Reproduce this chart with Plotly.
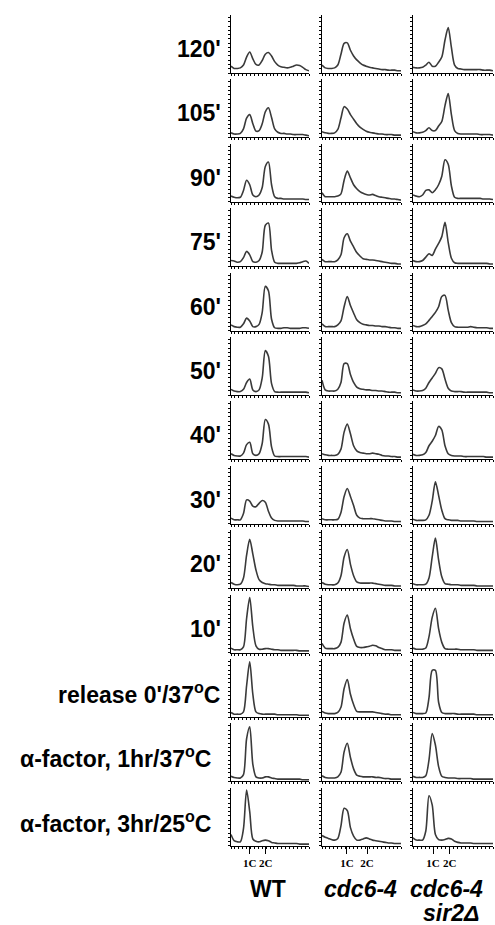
import plotly.graph_objects as go

# ---------------- data ----------------
channel = [0, 4, 8, 12, 16, 20, 24, 28, 32, 36, 40, 44, 48, 52, 56, 60, 64, 68, 72, 76, 80, 84, 88, 92, 96, 100]

row_labels = ["120'", "105'", "90'", "75'", "60'", "50'", "40'", "30'", "20'", "10'",
              "release 0'/37<sup>o</sup>C", "α-factor, 1hr/37<sup>o</sup>C", "α-factor, 3hr/25<sup>o</sup>C"]

strains = ["WT", "cdc6-4", "cdc6-4 sir2Δ"]
c1_pos = [24, 31.6, 25]
c2_pos = [44.5, 57, 46]
dna_ticks = ["1C", "2C"]

wt = [
    [12, 8, 8, 9, 14, 28, 37, 25, 15, 14, 22, 33, 36, 30, 20, 14, 11, 10, 9, 10, 12, 14, 13, 10, 6, 4],
    [8, 6, 6, 7, 15, 34, 40, 24, 11, 12, 24, 45, 52, 35, 15, 9, 7, 7, 6, 6, 5, 5, 5, 5, 4, 3],
    [10, 8, 7, 8, 20, 38, 30, 12, 9, 12, 25, 62, 70, 30, 9, 6, 6, 5, 5, 5, 5, 5, 5, 5, 4, 4],
    [10, 9, 7, 8, 15, 26, 20, 8, 7, 10, 25, 72, 76, 28, 7, 5, 5, 5, 5, 5, 5, 5, 6, 8, 9, 5],
    [10, 7, 6, 6, 12, 22, 17, 7, 7, 11, 32, 78, 70, 20, 5, 4, 4, 5, 5, 4, 4, 4, 4, 5, 5, 4],
    [10, 7, 6, 6, 10, 22, 28, 9, 6, 9, 30, 78, 68, 20, 6, 5, 5, 5, 5, 5, 5, 5, 5, 5, 5, 4],
    [10, 7, 6, 6, 11, 26, 30, 10, 7, 10, 28, 70, 62, 22, 6, 5, 5, 5, 5, 5, 5, 5, 5, 5, 5, 4],
    [10, 7, 7, 7, 18, 42, 40, 31, 30, 36, 41, 38, 22, 10, 6, 5, 5, 5, 5, 5, 5, 5, 5, 5, 4, 4],
    [10, 7, 6, 7, 18, 58, 86, 60, 32, 15, 10, 8, 7, 6, 6, 5, 5, 5, 5, 5, 5, 4, 4, 4, 4, 3],
    [8, 5, 5, 5, 10, 60, 97, 45, 12, 6, 6, 7, 7, 6, 5, 5, 4, 4, 4, 4, 4, 4, 3, 3, 3, 3],
    [8, 5, 5, 5, 9, 55, 97, 40, 9, 6, 5, 5, 5, 5, 5, 4, 4, 4, 4, 4, 4, 4, 3, 3, 3, 3],
    [9, 7, 6, 6, 12, 75, 96, 30, 8, 6, 6, 8, 8, 6, 5, 4, 4, 4, 4, 4, 4, 4, 4, 3, 3, 3],
    [20, 9, 7, 7, 30, 98, 60, 12, 8, 7, 9, 10, 9, 6, 5, 4, 4, 4, 4, 4, 4, 4, 3, 3, 3, 3],
]

cdc6 = [
    [14, 9, 8, 8, 9, 14, 33, 52, 53, 40, 30, 23, 18, 14, 12, 10, 9, 8, 7, 6, 6, 5, 5, 5, 4, 4],
    [10, 8, 7, 7, 8, 14, 34, 54, 50, 40, 32, 24, 18, 14, 11, 9, 8, 7, 6, 6, 5, 5, 5, 4, 4, 4],
    [16, 9, 9, 9, 9, 10, 14, 38, 54, 42, 30, 23, 18, 15, 13, 12, 13, 11, 9, 8, 7, 6, 5, 5, 4, 3],
    [12, 8, 8, 8, 8, 11, 20, 50, 57, 44, 34, 24, 18, 13, 12, 11, 11, 10, 9, 8, 7, 6, 5, 5, 4, 4],
    [12, 7, 7, 7, 7, 10, 17, 42, 60, 44, 31, 19, 14, 11, 10, 9, 9, 8, 8, 7, 7, 6, 5, 5, 4, 4],
    [26, 9, 7, 7, 7, 10, 22, 55, 55, 36, 22, 14, 11, 10, 9, 9, 8, 8, 7, 7, 6, 5, 5, 5, 4, 4],
    [10, 8, 7, 7, 7, 9, 18, 48, 62, 45, 24, 15, 12, 11, 10, 10, 11, 10, 9, 7, 6, 6, 5, 5, 4, 4],
    [9, 7, 7, 7, 7, 8, 20, 48, 62, 48, 32, 15, 10, 9, 9, 9, 9, 8, 7, 6, 5, 5, 5, 4, 4, 4],
    [10, 7, 6, 6, 6, 9, 22, 55, 68, 42, 22, 11, 9, 9, 9, 9, 9, 8, 7, 6, 5, 5, 5, 4, 4, 4],
    [16, 8, 7, 7, 7, 9, 18, 52, 66, 42, 24, 11, 9, 9, 10, 11, 13, 12, 9, 7, 5, 5, 5, 4, 4, 4],
    [10, 7, 6, 6, 6, 8, 17, 50, 66, 40, 22, 10, 9, 9, 9, 9, 9, 8, 7, 6, 5, 5, 4, 4, 4, 4],
    [10, 7, 6, 6, 6, 8, 16, 52, 67, 42, 22, 11, 9, 8, 8, 8, 8, 7, 7, 6, 5, 5, 4, 4, 4, 4],
    [18, 15, 13, 11, 10, 13, 35, 66, 62, 32, 17, 10, 10, 12, 14, 12, 10, 9, 8, 7, 6, 5, 5, 4, 4, 4],
]

cdc6_sir2 = [
    [10, 9, 9, 10, 14, 19, 12, 12, 19, 28, 58, 80, 45, 14, 8, 7, 6, 6, 6, 6, 6, 6, 5, 5, 5, 4],
    [10, 8, 8, 9, 12, 17, 12, 12, 20, 28, 56, 77, 40, 12, 7, 6, 6, 6, 6, 6, 6, 5, 5, 5, 5, 4],
    [12, 10, 9, 12, 20, 21, 16, 21, 30, 45, 74, 66, 28, 8, 6, 6, 6, 6, 6, 6, 6, 6, 5, 5, 5, 4],
    [10, 8, 8, 10, 16, 22, 19, 30, 40, 52, 77, 42, 14, 6, 5, 5, 5, 5, 5, 5, 5, 5, 5, 5, 4, 4],
    [9, 7, 7, 9, 12, 18, 25, 32, 42, 60, 62, 36, 14, 7, 6, 6, 6, 6, 7, 6, 5, 5, 5, 5, 4, 4],
    [9, 7, 7, 8, 12, 22, 30, 38, 48, 46, 28, 12, 7, 6, 6, 6, 5, 5, 5, 5, 5, 5, 5, 5, 4, 4],
    [9, 7, 7, 8, 12, 24, 32, 42, 58, 52, 24, 10, 7, 6, 6, 6, 5, 5, 5, 5, 5, 5, 5, 4, 4, 4],
    [8, 6, 6, 6, 7, 15, 40, 74, 50, 24, 9, 7, 6, 6, 6, 5, 5, 5, 5, 5, 4, 4, 4, 4, 4, 4],
    [8, 6, 6, 6, 7, 18, 55, 88, 50, 20, 8, 7, 6, 6, 6, 5, 5, 5, 5, 5, 4, 4, 4, 4, 4, 4],
    [8, 6, 6, 6, 8, 28, 62, 78, 42, 18, 7, 6, 6, 6, 6, 5, 5, 5, 5, 5, 4, 4, 4, 4, 4, 4],
    [8, 6, 6, 6, 7, 34, 82, 82, 26, 8, 6, 6, 6, 6, 5, 5, 5, 5, 5, 5, 4, 4, 4, 4, 4, 4],
    [9, 7, 7, 7, 10, 38, 84, 64, 26, 9, 7, 6, 6, 6, 5, 5, 5, 5, 5, 4, 4, 4, 4, 4, 4, 4],
    [14, 10, 10, 10, 26, 88, 72, 20, 11, 10, 11, 13, 12, 8, 6, 5, 5, 5, 5, 4, 4, 4, 4, 4, 4, 4],
]

columns = [wt, cdc6, cdc6_sir2]

# ---------------- layout geometry (pixels) ----------------
W, H = 495, 925
col_px = [(231, 309), (322, 401), (413, 493)]
row_top0, row_h, row_pitch = 15, 58, 64.4

fig = go.Figure()
layout = dict(
    width=W, height=H, margin=dict(l=0, r=0, t=0, b=0),
    paper_bgcolor="white", plot_bgcolor="white", showlegend=False,
    font=dict(family="Liberation Sans, Arial", color="black"),
)

n_rows = len(row_labels)
k = 0
for c, data in enumerate(columns):
    x0, x1 = col_px[c]
    for r in range(n_rows):
        k += 1
        top = row_top0 + r * row_pitch
        bot = top + row_h
        xa = "xaxis" if k == 1 else f"xaxis{k}"
        ya = "yaxis" if k == 1 else f"yaxis{k}"
        xref = "x" if k == 1 else f"x{k}"
        yref = "y" if k == 1 else f"y{k}"
        fig.add_trace(go.Scatter(
            x=channel, y=data[r], mode="lines", xaxis=xref, yaxis=yref,
            line=dict(color="#3a3a3a", width=1.6, shape="spline", smoothing=0.8),
            hoverinfo="skip",
        ))
        last = (r == n_rows - 1)
        xdict = dict(
            domain=[x0 / W, x1 / W], anchor=yref, range=[0, 100],
            showline=True, linecolor="black", linewidth=1, mirror=False,
            showgrid=False, zeroline=False, fixedrange=True,
        )
        if last:
            xdict.update(
                tickmode="array", tickvals=[c1_pos[c], c2_pos[c]],
                ticktext=[f"<b>{t}</b>" for t in dna_ticks],
                ticks="outside", ticklen=7, tickwidth=1, tickcolor="black",
                showticklabels=True, tickangle=0,
                tickfont=dict(family="Liberation Serif, Times New Roman", size=11, color="black"),
                minor=dict(ticks="outside", ticklen=2, tickwidth=1, tickcolor="black", dtick=5, tick0=0),
            )
        else:
            xdict.update(
                ticks="outside", ticklen=2, tickwidth=1, tickcolor="black",
                dtick=5, tick0=0, showticklabels=False,
            )
        ydict = dict(
            domain=[1 - bot / H, 1 - top / H], anchor=xref, range=[0, 102],
            showline=True, linecolor="black", linewidth=1,
            ticks="outside", ticklen=2, tickwidth=1, tickcolor="black",
            dtick=7.5, tick0=0, showticklabels=False,
            showgrid=False, zeroline=False, fixedrange=True,
        )
        layout[xa] = xdict
        layout[ya] = ydict

annotations = []
label_right = [223] * 10 + [222, 213, 213]
for r, lab in enumerate(row_labels):
    yc = row_top0 + r * row_pitch + row_h / 2 + 5
    annotations.append(dict(
        x=label_right[r] / W, y=1 - yc / H, xref="paper", yref="paper",
        xanchor="right", yanchor="middle", showarrow=False,
        text=f"<b>{lab}</b>", font=dict(family="Liberation Sans, Arial", size=23, color="black"),
    ))

title_pos = [(267.5, 889), (360, 889), (446.5, 889)]
title_txt = ["<b>WT</b>", "<b><i>cdc6-4</i></b>", "<b><i>cdc6-4</i></b>"]
for (xc, yc), t in zip(title_pos, title_txt):
    annotations.append(dict(
        x=xc / W, y=1 - yc / H, xref="paper", yref="paper",
        xanchor="center", yanchor="middle", showarrow=False,
        text=t, font=dict(family="Liberation Sans, Arial", size=23, color="black"),
    ))
annotations.append(dict(
    x=451 / W, y=1 - 913 / H, xref="paper", yref="paper",
    xanchor="center", yanchor="middle", showarrow=False,
    text="<b><i>sir2Δ</i></b>", font=dict(family="Liberation Sans, Arial", size=23, color="black"),
))
layout["annotations"] = annotations

fig.update_layout(**layout)
fig.write_html("out.html", config={"displayModeBar": False},
               post_script="document.body.style.margin='0';document.body.style.overflow='hidden';")
